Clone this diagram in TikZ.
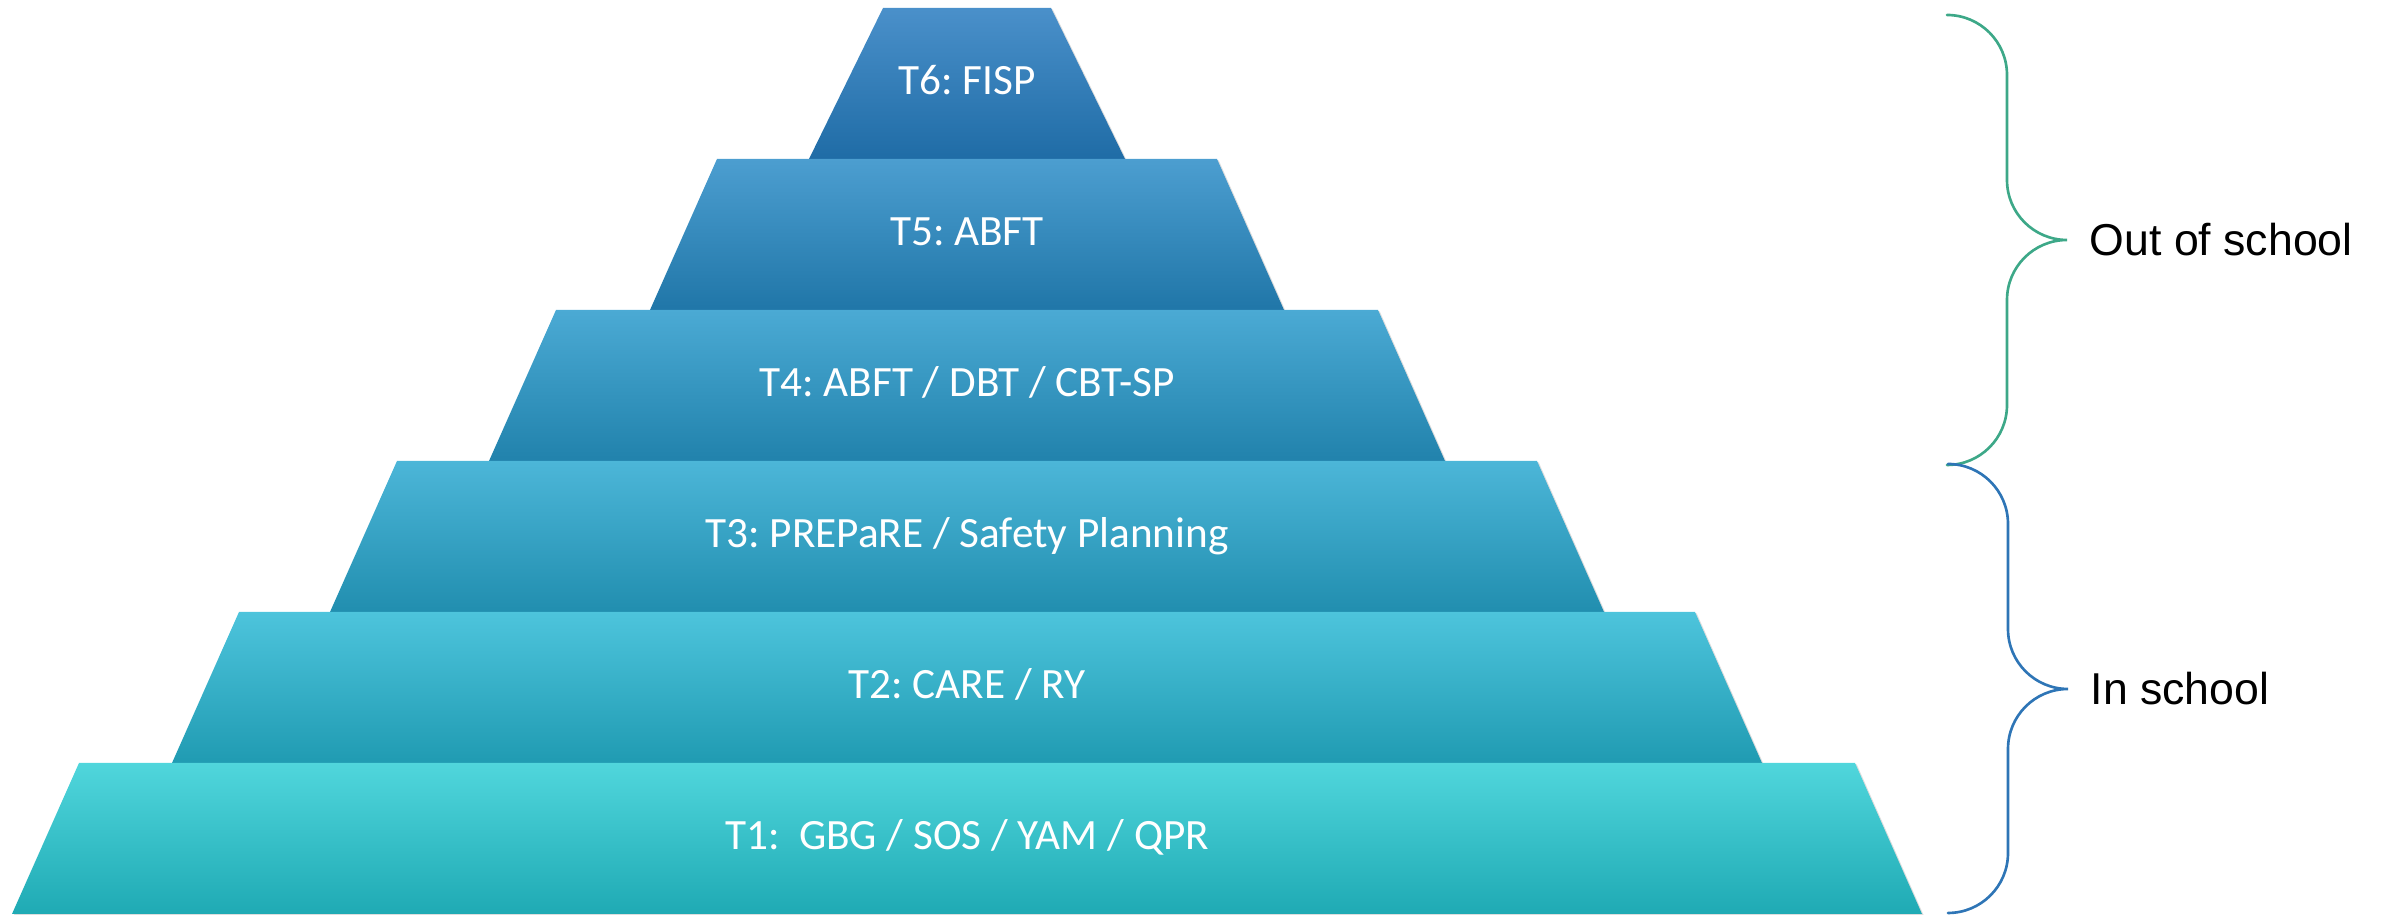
\documentclass[tikz,border=0pt]{standalone}
\usepackage{fontspec}
\setmainfont{Carlito}
\newfontfamily\bracefont{Liberation Sans}
\usepackage{tikz}
\usetikzlibrary{shadows}
\definecolor{TSixTop}{RGB}{74,144,202}
\definecolor{TSixBot}{RGB}{31,108,166}
\definecolor{TFiveTop}{RGB}{76,158,208}
\definecolor{TFiveBot}{RGB}{32,118,168}
\definecolor{TFourTop}{RGB}{75,170,212}
\definecolor{TFourBot}{RGB}{33,130,172}
\definecolor{TThreeTop}{RGB}{76,182,216}
\definecolor{TThreeBot}{RGB}{33,142,175}
\definecolor{TTwoTop}{RGB}{77,196,220}
\definecolor{TTwoBot}{RGB}{32,155,178}
\definecolor{TOneTop}{RGB}{80,214,220}
\definecolor{TOneBot}{RGB}{31,170,180}
\definecolor{BraceGreen}{RGB}{61,168,136}
\definecolor{BraceBlue}{RGB}{46,117,182}

\tikzset{
  tier/.style={drop shadow={shadow xshift=0.5pt, shadow yshift=-0.4pt, opacity=0.22, fill=black!60}},
  tierlabel/.style={text=white, font=\fontsize{12.3}{14}\selectfont, text height=1.6ex, text depth=0.3ex, inner sep=0pt},
  schoolbrace/.style={line width=0.75pt, line cap=round},
  bracelabel/.style={anchor=west, font=\bracefont\fontsize{12.7}{15}\selectfont, inner sep=0pt}
}
\frenchspacing

\begin{document}
\begin{tikzpicture}[x=0.1mm,y=0.1mm]
  \path[use as bounding box] (0,0) rectangle (2384,915);

  % T6
  \shade[tier, top color=TSixTop, bottom color=TSixBot]
    (809,756) -- (883,907) -- (1051,907) -- (1125,756) -- cycle;
  \node[tierlabel] (t6) at (967,831) {T6: FISP};

  % T5
  \shade[tier, top color=TFiveTop, bottom color=TFiveBot]
    (650,605) -- (717,756) -- (1217,756) -- (1284,605) -- cycle;
  \node[tierlabel] (t5) at (967,680) {T5: ABFT};

  % T4
  \shade[tier, top color=TFourTop, bottom color=TFourBot]
    (489,454) -- (556,605) -- (1378,605) -- (1445,454) -- cycle;
  \node[tierlabel] (t4) at (967,529) {T4: ABFT / DBT / CBT-SP};

  % T3
  \shade[tier, top color=TThreeTop, bottom color=TThreeBot]
    (330,303) -- (397,454) -- (1537,454) -- (1604,303) -- cycle;
  \node[tierlabel] (t3) at (967,378) {T3: PREPaRE / Safety Planning};

  % T2
  \shade[tier, top color=TTwoTop, bottom color=TTwoBot]
    (172,152) -- (239,303) -- (1695,303) -- (1762,152) -- cycle;
  \node[tierlabel] (t2) at (967,227) {T2: CARE / RY};

  % T1
  \shade[tier, top color=TOneTop, bottom color=TOneBot]
    (12,1) -- (79,152) -- (1855,152) -- (1922,1) -- cycle;
  \node[tierlabel] (t1) at (967,76) {T1:\ \ GBG / SOS / YAM / QPR};

  % out of school brace
  \draw[schoolbrace, BraceGreen] (1947,900)
    arc[start angle=90, end angle=0, radius=60] -- (2007,735)
    arc[start angle=180, end angle=270, radius=60]
    arc[start angle=90, end angle=180, radius=60] -- (2007,510)
    arc[start angle=0, end angle=-90, radius=60];
  \node[bracelabel] (out) at (2089,675) {Out of school};

  % in school brace
  \draw[schoolbrace, BraceBlue] (1948,451)
    arc[start angle=90, end angle=0, radius=60] -- (2008,286)
    arc[start angle=180, end angle=270, radius=60]
    arc[start angle=90, end angle=180, radius=60] -- (2008,62)
    arc[start angle=0, end angle=-90, radius=60];
  \node[bracelabel] (in) at (2090,226) {In school};
\end{tikzpicture}
\end{document}
